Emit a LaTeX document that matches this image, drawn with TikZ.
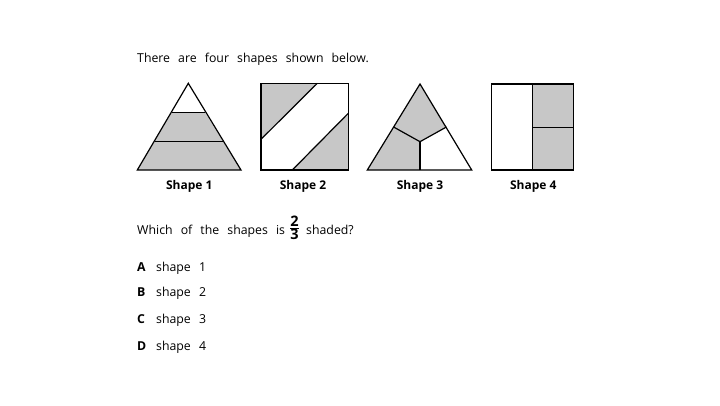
\documentclass[tikz,border=0pt]{standalone}
\usepackage{fontspec}
\setmainfont{Open Sans}
\newcommand{\ws}{\hspace{0.66em}}
\begin{document}
\begin{tikzpicture}[x=1pt,y=-1pt,
  shp/.style={draw=black,line width=1.2pt,line join=miter},
  fillg/.style={fill=black!22},
  ln/.style={draw=black,line width=1.2pt},
  lbl/.style={font=\fontsize{12}{14}\selectfont\bfseries,inner sep=0pt},
  txt/.style={font=\fontsize{12.3}{14}\selectfont,inner sep=0pt,anchor=base west},
  opt/.style={font=\fontsize{12.3}{14}\selectfont,inner sep=0pt,anchor=base west}]
\useasboundingbox (0,0) rectangle (720,405);
% title
\node[txt] (title) at (137,62.5) {There\ws are\ws four\ws shapes\ws shown\ws below.};
% Shape 1
\coordinate (s1a) at (188.3,83.3);
\coordinate (s1l) at (137.3,170);
\coordinate (s1r) at (241,170);
\coordinate (s1m1l) at (171.7,112.7);
\coordinate (s1m1r) at (205,112.7);
\coordinate (s1m2l) at (154.5,141.8);
\coordinate (s1m2r) at (222.5,141.8);
\fill[fillg] (s1m1l) -- (s1m1r) -- (s1r) -- (s1l) -- cycle;
\draw[ln] (s1m1l) -- (s1m1r);
\draw[ln] (s1m2l) -- (s1m2r);
\draw[shp] (s1a) -- (s1r) -- (s1l) -- cycle;
% Shape 2
\coordinate (s2tl) at (261,83.3);
\coordinate (s2br) at (348.3,170);
\fill[fillg] (261,83.3) -- (317.3,83.3) -- (261,139.3) -- cycle;
\fill[fillg] (348.3,113.3) -- (348.3,170) -- (292.3,170) -- cycle;
\coordinate (s2p1) at (317.3,83.3);
\coordinate (s2p2) at (261,139.3);
\coordinate (s2p3) at (348.3,113.3);
\coordinate (s2p4) at (292.3,170);
\draw[ln] (s2p1) -- (s2p2);
\draw[ln] (s2p3) -- (s2p4);
\draw[shp] (s2tl) rectangle (s2br);
% Shape 3
\coordinate (s3a) at (420,84);
\coordinate (s3l) at (367.3,170);
\coordinate (s3r) at (471.7,170);
\coordinate (s3c) at (420,141.7);
\coordinate (s3el) at (393.6,127);
\coordinate (s3er) at (446.4,127);
\coordinate (s3bm) at (420,170);
\fill[fillg] (s3a) -- (s3er) -- (s3c) -- (s3el) -- cycle;
\fill[fillg] (s3el) -- (s3c) -- (s3bm) -- (s3l) -- cycle;
\draw[ln] (s3el) -- (s3c) -- (s3er);
\draw[ln] (s3c) -- (s3bm);
\draw[shp] (s3a) -- (s3r) -- (s3l) -- cycle;
% Shape 4
\coordinate (s4tl) at (491.7,84);
\coordinate (s4br) at (573.3,170);
\coordinate (s4mt) at (532.7,84);
\coordinate (s4mb) at (532.7,170);
\coordinate (s4hl) at (532.7,127.3);
\coordinate (s4hr) at (573.3,127.3);
\fill[fillg] (s4mt) rectangle (s4br);
\draw[ln] (s4mt) -- (s4mb);
\draw[ln] (s4hl) -- (s4hr);
\draw[shp] (s4tl) rectangle (s4br);
% labels
\node[lbl] (l1) at (189.3,186.7) {Shape 1};
\node[lbl] (l2) at (303,186.7) {Shape 2};
\node[lbl] (l3) at (420,186.7) {Shape 3};
\node[lbl] (l4) at (533.3,186.7) {Shape 4};
% question
\node[txt] (q1) at (137,234) {Which\ws of\ws the\ws shapes\ws is};
\node[inner sep=0pt,font=\fontsize{14.5}{16}\selectfont\bfseries] (frac) at (294.5,227.5) {$\frac{\textbf{2}}{\textbf{3}}$};
\node[txt] (q2) at (306,234) {shaded?};
% options
\node[opt] (oa) at (137,271) {\textbf{A}};
\node[opt] (oa2) at (156,271) {shape\ws 1};
\node[opt] (ob) at (137,296.5) {\textbf{B}};
\node[opt] (ob2) at (156,296.5) {shape\ws 2};
\node[opt] (oc) at (137,323) {\textbf{C}};
\node[opt] (oc2) at (156,323) {shape\ws 3};
\node[opt] (od) at (137,350) {\textbf{D}};
\node[opt] (od2) at (156,350) {shape\ws 4};
\end{tikzpicture}
\end{document}
